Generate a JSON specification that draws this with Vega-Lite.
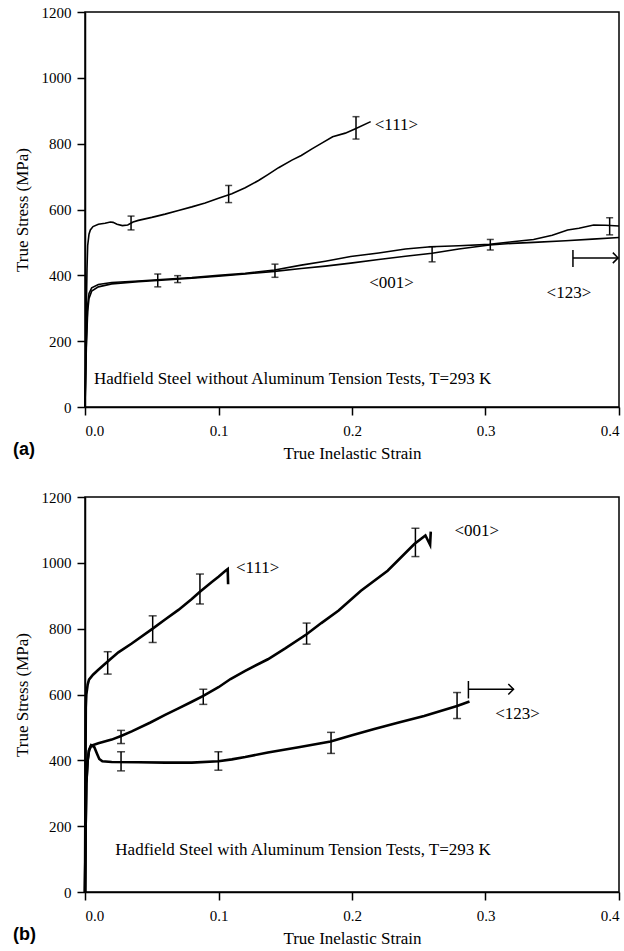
{
  "$schema": "https://vega.github.io/schema/vega-lite/v6.json",
  "background": "white",
  "padding": {"left": 12, "top": 4, "right": 2, "bottom": 2},
  "spacing": 27,
  "config": {
    "view": {"stroke": "black", "strokeWidth": 1.5},
    "font": "Liberation Serif",
    "axis": {
      "grid": false, "domainColor": "black", "domainWidth": 1.5, "tickColor": "black", "tickWidth": 1.5,
      "tickSize": 8, "labelFont": "Liberation Serif", "labelFontSize": 15, "labelColor": "black",
      "titleFont": "Liberation Serif", "titleFontSize": 17, "titleFontWeight": "normal", "titleColor": "black"
    },
    "axisX": {"labelPadding": 8, "titlePadding": 7},
    "axisY": {"labelPadding": 6, "titlePadding": 10},
    "title": {"font": "Liberation Sans", "fontSize": 18, "fontWeight": "bold", "color": "black"}
  },
  "datasets": {
    "curvesA": [
      {"s": "111", "x": 0, "y": 0}, {"s": "111", "x": 0.0005, "y": 150}, {"s": "111", "x": 0.001, "y": 300}, {"s": "111", "x": 0.0015, "y": 420}, {"s": "111", "x": 0.002, "y": 490}, {"s": "111", "x": 0.003, "y": 525}, {"s": "111", "x": 0.004, "y": 538}, {"s": "111", "x": 0.006, "y": 548}, {"s": "111", "x": 0.01, "y": 555}, {"s": "111", "x": 0.015, "y": 558}, {"s": "111", "x": 0.019, "y": 562}, {"s": "111", "x": 0.021, "y": 561}, {"s": "111", "x": 0.024, "y": 555}, {"s": "111", "x": 0.028, "y": 551}, {"s": "111", "x": 0.032, "y": 553}, {"s": "111", "x": 0.036, "y": 562}, {"s": "111", "x": 0.04, "y": 567}, {"s": "111", "x": 0.05, "y": 576}, {"s": "111", "x": 0.06, "y": 586}, {"s": "111", "x": 0.07, "y": 597}, {"s": "111", "x": 0.08, "y": 608}, {"s": "111", "x": 0.09, "y": 620}, {"s": "111", "x": 0.1, "y": 634}, {"s": "111", "x": 0.11, "y": 648}, {"s": "111", "x": 0.12, "y": 666}, {"s": "111", "x": 0.13, "y": 688}, {"s": "111", "x": 0.137, "y": 706}, {"s": "111", "x": 0.145, "y": 727}, {"s": "111", "x": 0.155, "y": 750}, {"s": "111", "x": 0.162, "y": 764}, {"s": "111", "x": 0.17, "y": 784}, {"s": "111", "x": 0.178, "y": 803}, {"s": "111", "x": 0.1855, "y": 821}, {"s": "111", "x": 0.195, "y": 832}, {"s": "111", "x": 0.203, "y": 846}, {"s": "111", "x": 0.214, "y": 867},
      {"s": "001", "x": 0, "y": 0}, {"s": "001", "x": 0.001, "y": 200}, {"s": "001", "x": 0.002, "y": 310}, {"s": "001", "x": 0.003, "y": 345}, {"s": "001", "x": 0.005, "y": 362}, {"s": "001", "x": 0.01, "y": 372}, {"s": "001", "x": 0.02, "y": 378}, {"s": "001", "x": 0.04, "y": 383}, {"s": "001", "x": 0.06, "y": 388}, {"s": "001", "x": 0.08, "y": 393}, {"s": "001", "x": 0.1, "y": 400}, {"s": "001", "x": 0.12, "y": 406}, {"s": "001", "x": 0.142, "y": 416}, {"s": "001", "x": 0.162, "y": 431}, {"s": "001", "x": 0.18, "y": 443}, {"s": "001", "x": 0.199, "y": 457}, {"s": "001", "x": 0.22, "y": 468}, {"s": "001", "x": 0.24, "y": 480}, {"s": "001", "x": 0.259, "y": 487}, {"s": "001", "x": 0.28, "y": 490}, {"s": "001", "x": 0.303, "y": 494}, {"s": "001", "x": 0.32, "y": 502}, {"s": "001", "x": 0.336, "y": 509}, {"s": "001", "x": 0.35, "y": 522}, {"s": "001", "x": 0.3615, "y": 538}, {"s": "001", "x": 0.37, "y": 543}, {"s": "001", "x": 0.381, "y": 553}, {"s": "001", "x": 0.39, "y": 552}, {"s": "001", "x": 0.4, "y": 550},
      {"s": "123", "x": 0, "y": 0}, {"s": "123", "x": 0.001, "y": 180}, {"s": "123", "x": 0.002, "y": 290}, {"s": "123", "x": 0.003, "y": 330}, {"s": "123", "x": 0.005, "y": 352}, {"s": "123", "x": 0.01, "y": 365}, {"s": "123", "x": 0.02, "y": 374}, {"s": "123", "x": 0.04, "y": 381}, {"s": "123", "x": 0.06, "y": 386}, {"s": "123", "x": 0.08, "y": 391}, {"s": "123", "x": 0.1, "y": 397}, {"s": "123", "x": 0.12, "y": 404}, {"s": "123", "x": 0.142, "y": 412}, {"s": "123", "x": 0.162, "y": 421}, {"s": "123", "x": 0.18, "y": 428}, {"s": "123", "x": 0.199, "y": 437}, {"s": "123", "x": 0.22, "y": 448}, {"s": "123", "x": 0.24, "y": 458}, {"s": "123", "x": 0.26, "y": 467}, {"s": "123", "x": 0.28, "y": 480}, {"s": "123", "x": 0.303, "y": 492}, {"s": "123", "x": 0.32, "y": 497}, {"s": "123", "x": 0.336, "y": 500}, {"s": "123", "x": 0.36, "y": 505}, {"s": "123", "x": 0.38, "y": 510}, {"s": "123", "x": 0.4, "y": 515}
    ],
    "errA": [
      {"x": 0.0345, "lo": 538, "hi": 580}, {"x": 0.1076, "lo": 621, "hi": 673}, {"x": 0.203, "lo": 814, "hi": 882},
      {"x": 0.0545, "lo": 365, "hi": 404}, {"x": 0.0694, "lo": 378, "hi": 399}, {"x": 0.1423, "lo": 394, "hi": 434},
      {"x": 0.26, "lo": 441, "hi": 487}, {"x": 0.3036, "lo": 477, "hi": 509}, {"x": 0.393, "lo": 523, "hi": 575}
    ],
    "labelsAL": [
      {"t": "<111>", "x": 0.217, "y": 857},
      {"t": "Hadfield Steel without Aluminum Tension Tests, T=293 K", "x": 0.0067, "y": 85}
    ],
    "labelsAC": [
      {"t": "<001>", "x": 0.2296, "y": 377},
      {"t": "<123>", "x": 0.3625, "y": 346}
    ],
    "arrowA": [{"x": 0.3655, "x2": 0.3993, "y": 453, "lo": 425, "hi": 477}],
    "curvesB": [
      {"s": "111", "x": 0, "y": 0}, {"s": "111", "x": 0.0003, "y": 300}, {"s": "111", "x": 0.0006, "y": 560}, {"s": "111", "x": 0.001, "y": 600}, {"s": "111", "x": 0.002, "y": 630}, {"s": "111", "x": 0.003, "y": 645}, {"s": "111", "x": 0.006, "y": 660}, {"s": "111", "x": 0.01, "y": 675}, {"s": "111", "x": 0.017, "y": 700}, {"s": "111", "x": 0.025, "y": 728}, {"s": "111", "x": 0.035, "y": 755}, {"s": "111", "x": 0.0507, "y": 800}, {"s": "111", "x": 0.06, "y": 828}, {"s": "111", "x": 0.07, "y": 857}, {"s": "111", "x": 0.08, "y": 890}, {"s": "111", "x": 0.0861, "y": 912}, {"s": "111", "x": 0.095, "y": 942}, {"s": "111", "x": 0.1, "y": 958}, {"s": "111", "x": 0.105, "y": 975}, {"s": "111", "x": 0.1069, "y": 981}, {"s": "111", "x": 0.1072, "y": 935},
      {"s": "001", "x": 0, "y": 0}, {"s": "001", "x": 0.0005, "y": 200}, {"s": "001", "x": 0.001, "y": 330}, {"s": "001", "x": 0.002, "y": 400}, {"s": "001", "x": 0.003, "y": 430}, {"s": "001", "x": 0.0045, "y": 444}, {"s": "001", "x": 0.01, "y": 452}, {"s": "001", "x": 0.02, "y": 463}, {"s": "001", "x": 0.027, "y": 474}, {"s": "001", "x": 0.035, "y": 488}, {"s": "001", "x": 0.049, "y": 515}, {"s": "001", "x": 0.06, "y": 538}, {"s": "001", "x": 0.07, "y": 558}, {"s": "001", "x": 0.08, "y": 578}, {"s": "001", "x": 0.0886, "y": 596}, {"s": "001", "x": 0.1, "y": 622}, {"s": "001", "x": 0.109, "y": 647}, {"s": "001", "x": 0.12, "y": 672}, {"s": "001", "x": 0.137, "y": 707}, {"s": "001", "x": 0.15, "y": 740}, {"s": "001", "x": 0.166, "y": 783}, {"s": "001", "x": 0.177, "y": 817}, {"s": "001", "x": 0.19, "y": 855}, {"s": "001", "x": 0.2067, "y": 915}, {"s": "001", "x": 0.2267, "y": 976}, {"s": "001", "x": 0.2467, "y": 1057}, {"s": "001", "x": 0.255, "y": 1083}, {"s": "001", "x": 0.259, "y": 1095}, {"s": "001", "x": 0.2585, "y": 1055},
      {"s": "123", "x": 0, "y": 0}, {"s": "123", "x": 0.0005, "y": 200}, {"s": "123", "x": 0.001, "y": 330}, {"s": "123", "x": 0.002, "y": 400}, {"s": "123", "x": 0.003, "y": 430}, {"s": "123", "x": 0.0046, "y": 446}, {"s": "123", "x": 0.007, "y": 440}, {"s": "123", "x": 0.009, "y": 420}, {"s": "123", "x": 0.0107, "y": 404}, {"s": "123", "x": 0.013, "y": 397}, {"s": "123", "x": 0.02, "y": 395}, {"s": "123", "x": 0.04, "y": 394}, {"s": "123", "x": 0.06, "y": 393}, {"s": "123", "x": 0.08, "y": 393}, {"s": "123", "x": 0.0999, "y": 397}, {"s": "123", "x": 0.11, "y": 403}, {"s": "123", "x": 0.12, "y": 410}, {"s": "123", "x": 0.137, "y": 424}, {"s": "123", "x": 0.16, "y": 440}, {"s": "123", "x": 0.184, "y": 457}, {"s": "123", "x": 0.2, "y": 476}, {"s": "123", "x": 0.2167, "y": 495}, {"s": "123", "x": 0.235, "y": 515}, {"s": "123", "x": 0.254, "y": 535}, {"s": "123", "x": 0.2787, "y": 565}, {"s": "123", "x": 0.288, "y": 579}
    ],
    "errB": [
      {"x": 0.017, "lo": 662, "hi": 730}, {"x": 0.0507, "lo": 758, "hi": 839}, {"x": 0.0861, "lo": 875, "hi": 966},
      {"x": 0.027, "lo": 451, "hi": 491}, {"x": 0.0886, "lo": 570, "hi": 616}, {"x": 0.166, "lo": 753, "hi": 817}, {"x": 0.2475, "lo": 1019, "hi": 1105},
      {"x": 0.027, "lo": 368, "hi": 426}, {"x": 0.0999, "lo": 370, "hi": 426}, {"x": 0.1843, "lo": 421, "hi": 485}, {"x": 0.2787, "lo": 527, "hi": 606}
    ],
    "labelsBL": [
      {"t": "<111>", "x": 0.1131, "y": 984},
      {"t": "Hadfield Steel with Aluminum Tension Tests, T=293 K", "x": 0.0227, "y": 128}
    ],
    "labelsBC": [
      {"t": "<001>", "x": 0.2935, "y": 1097},
      {"t": "<123>", "x": 0.324, "y": 542}
    ],
    "arrowB": [{"x": 0.2872, "x2": 0.321, "y": 616, "lo": 588, "hi": 641}]
  },
  "vconcat": [
    {
      "title": {"text": "(a)", "orient": "bottom", "anchor": "start", "frame": "bounds", "offset": -20},
      "width": 534, "height": 395,
      "layer": [
        {"data": {"name": "curvesA"}, "mark": {"type": "line", "color": "black", "strokeWidth": 1.6},
         "encoding": {"x": {"field": "x", "type": "quantitative", "scale": {"domain": [0, 0.4], "nice": false}, "axis": {"values": [0, 0.1, 0.2, 0.3, 0.4], "format": ".1f", "title": "True Inelastic Strain", "labelFont": "Liberation Serif"}},
                      "y": {"field": "y", "type": "quantitative", "scale": {"domain": [0, 1200], "nice": false}, "axis": {"values": [0, 200, 400, 600, 800, 1000, 1200], "format": "d", "title": "True Stress (MPa)", "labelFont": "Liberation Serif"}},
                      "detail": {"field": "s"}, "order": {"field": "x", "type": "quantitative"}}},
        {"data": {"name": "errA"}, "mark": {"type": "rule", "color": "black", "strokeWidth": 1.5},
         "encoding": {"x": {"field": "x", "type": "quantitative"}, "y": {"field": "lo", "type": "quantitative"}, "y2": {"field": "hi"}}},
        {"data": {"name": "errA"}, "mark": {"type": "tick", "orient": "horizontal", "color": "black", "thickness": 1.5, "size": 7},
         "encoding": {"x": {"field": "x", "type": "quantitative"}, "y": {"field": "lo", "type": "quantitative"}}},
        {"data": {"name": "errA"}, "mark": {"type": "tick", "orient": "horizontal", "color": "black", "thickness": 1.5, "size": 7},
         "encoding": {"x": {"field": "x", "type": "quantitative"}, "y": {"field": "hi", "type": "quantitative"}}},
        {"data": {"name": "arrowA"}, "mark": {"type": "rule", "color": "black", "strokeWidth": 1.5},
         "encoding": {"x": {"field": "x", "type": "quantitative"}, "x2": {"field": "x2"}, "y": {"field": "y", "type": "quantitative"}}},
        {"data": {"name": "arrowA"}, "mark": {"type": "rule", "color": "black", "strokeWidth": 1.5},
         "encoding": {"x": {"field": "x", "type": "quantitative"}, "y": {"field": "lo", "type": "quantitative"}, "y2": {"field": "hi"}}},
        {"data": {"name": "arrowA"}, "mark": {"type": "point", "shape": "M-1,-1L0,0L-1,1", "filled": false, "color": "black", "strokeWidth": 1.5, "size": 110, "opacity": 1},
         "encoding": {"x": {"field": "x2", "type": "quantitative"}, "y": {"field": "y", "type": "quantitative"}}},
        {"data": {"name": "labelsAL"}, "mark": {"type": "text", "font": "Liberation Serif", "fontSize": 17, "color": "black", "baseline": "middle", "align": "left"},
         "encoding": {"x": {"field": "x", "type": "quantitative"}, "y": {"field": "y", "type": "quantitative"}, "text": {"field": "t"}}},
        {"data": {"name": "labelsAC"}, "mark": {"type": "text", "font": "Liberation Serif", "fontSize": 17, "color": "black", "baseline": "middle", "align": "center"},
         "encoding": {"x": {"field": "x", "type": "quantitative"}, "y": {"field": "y", "type": "quantitative"}, "text": {"field": "t"}}}
      ]
    },
    {
      "title": {"text": "(b)", "orient": "bottom", "anchor": "start", "frame": "bounds", "offset": -20},
      "width": 534, "height": 395,
      "layer": [
        {"data": {"name": "curvesB"}, "mark": {"type": "line", "color": "black", "strokeWidth": 2.6},
         "encoding": {"x": {"field": "x", "type": "quantitative", "scale": {"domain": [0, 0.4], "nice": false}, "axis": {"values": [0, 0.1, 0.2, 0.3, 0.4], "format": ".1f", "title": "True Inelastic Strain", "labelFont": "Liberation Serif"}},
                      "y": {"field": "y", "type": "quantitative", "scale": {"domain": [0, 1200], "nice": false}, "axis": {"values": [0, 200, 400, 600, 800, 1000, 1200], "format": "d", "title": "True Stress (MPa)", "labelFont": "Liberation Serif"}},
                      "detail": {"field": "s"}, "order": {"field": "x", "type": "quantitative"}}},
        {"data": {"name": "errB"}, "mark": {"type": "rule", "color": "black", "strokeWidth": 1.5},
         "encoding": {"x": {"field": "x", "type": "quantitative"}, "y": {"field": "lo", "type": "quantitative"}, "y2": {"field": "hi"}}},
        {"data": {"name": "errB"}, "mark": {"type": "tick", "orient": "horizontal", "color": "black", "thickness": 1.5, "size": 8},
         "encoding": {"x": {"field": "x", "type": "quantitative"}, "y": {"field": "lo", "type": "quantitative"}}},
        {"data": {"name": "errB"}, "mark": {"type": "tick", "orient": "horizontal", "color": "black", "thickness": 1.5, "size": 8},
         "encoding": {"x": {"field": "x", "type": "quantitative"}, "y": {"field": "hi", "type": "quantitative"}}},
        {"data": {"name": "arrowB"}, "mark": {"type": "rule", "color": "black", "strokeWidth": 1.5},
         "encoding": {"x": {"field": "x", "type": "quantitative"}, "x2": {"field": "x2"}, "y": {"field": "y", "type": "quantitative"}}},
        {"data": {"name": "arrowB"}, "mark": {"type": "rule", "color": "black", "strokeWidth": 1.5},
         "encoding": {"x": {"field": "x", "type": "quantitative"}, "y": {"field": "lo", "type": "quantitative"}, "y2": {"field": "hi"}}},
        {"data": {"name": "arrowB"}, "mark": {"type": "point", "shape": "M-1,-1L0,0L-1,1", "filled": false, "color": "black", "strokeWidth": 1.5, "size": 110, "opacity": 1},
         "encoding": {"x": {"field": "x2", "type": "quantitative"}, "y": {"field": "y", "type": "quantitative"}}},
        {"data": {"name": "labelsBL"}, "mark": {"type": "text", "font": "Liberation Serif", "fontSize": 17, "color": "black", "baseline": "middle", "align": "left"},
         "encoding": {"x": {"field": "x", "type": "quantitative"}, "y": {"field": "y", "type": "quantitative"}, "text": {"field": "t"}}},
        {"data": {"name": "labelsBC"}, "mark": {"type": "text", "font": "Liberation Serif", "fontSize": 17, "color": "black", "baseline": "middle", "align": "center"},
         "encoding": {"x": {"field": "x", "type": "quantitative"}, "y": {"field": "y", "type": "quantitative"}, "text": {"field": "t"}}}
      ]
    }
  ]
}
